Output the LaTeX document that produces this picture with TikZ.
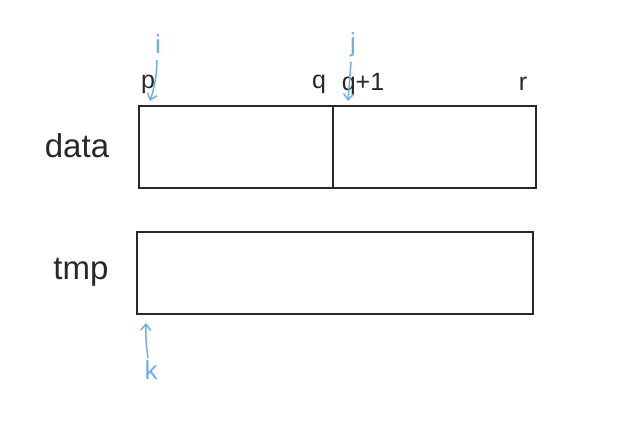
\documentclass[tikz,border=0pt]{standalone}
\usepackage{fontspec}
\setmainfont{Liberation Sans}
\usetikzlibrary{arrows.meta}
\definecolor{hand}{RGB}{40,40,40}
\definecolor{blueink}{RGB}{110,175,230}
\begin{document}
\begin{tikzpicture}[x=1pt,y=-1pt,
  box/.style={draw=hand,line width=1.7pt},
  lab/.style={font=\fontsize{33}{35}\selectfont,text=hand,inner sep=0pt},
  idx/.style={font=\fontsize{25}{27}\selectfont,text=hand,inner sep=0pt},
  bidx/.style={font=\fontsize{26}{28}\selectfont,text=blueink,inner sep=0pt},
  ptr/.style={draw=blueink,line width=1.5pt,-{Straight Barb[length=6pt,width=10pt]}}]
\useasboundingbox (0,0) rectangle (621,424);
\node[box,minimum width=194pt,minimum height=82pt,anchor=north west,inner sep=0pt] (left) at (138,105) {};
\node[box,minimum width=203pt,minimum height=82pt,anchor=north west,inner sep=0pt] (right) at (332,105) {};
\node[box,minimum width=396pt,minimum height=82pt,anchor=north west,inner sep=0pt] (tmp) at (136,231) {};
\node[lab] (ldata) at (77,146) {data};
\node[lab] (ltmp) at (81,272) {tmp};
\node[idx] (p) at (148,84) {p};
\node[idx] (q) at (319,84) {q};
\node[idx] (q1) at (363,84) {q+1};
\node[idx] (r) at (523,84) {r};
\node[bidx] (i) at (158,44) {i};
\node[bidx] (j) at (353,45) {j};
\node[bidx] (k) at (151,370) {k};
\coordinate (ia) at (157,60);
\coordinate (ib) at (150,101);
\coordinate (ja) at (351,62);
\coordinate (jb) at (348,101);
\coordinate (ka) at (148,358);
\coordinate (kb) at (146,323);
\draw[ptr] (ia) to[bend left=8] (ib);
\draw[ptr] (ja) -- (jb);
\draw[ptr] (ka) to[bend left=5] (kb);
\end{tikzpicture}
\end{document}
